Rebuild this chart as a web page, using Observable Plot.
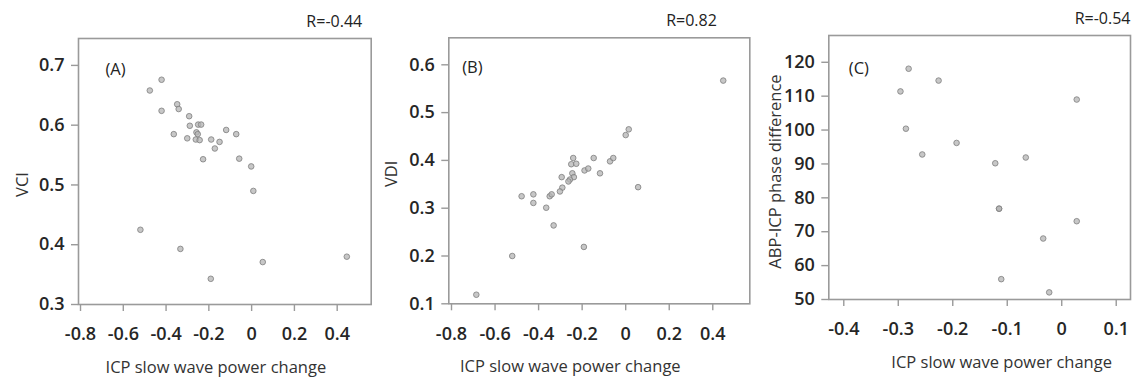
<!DOCTYPE html>
<html>
<head>
<meta charset="utf-8">
<script src="https://cdn.jsdelivr.net/npm/d3@7"></script>
<script src="https://cdn.jsdelivr.net/npm/@observablehq/plot@0.6"></script>
<style>
  html, body { margin: 0; padding: 0; background: #fff; }
  #wrap { position: relative; width: 1144px; height: 384px; overflow: hidden; }
  #wrap > svg { position: absolute; top: 0; }
</style>
</head>
<body>
<div id="wrap"></div>
<script>
// ---------- Data ----------
const xLabel = "ICP slow wave power change";

// Panel A: VCI
const aX = [-0.421,-0.476,-0.348,-0.341,-0.421,-0.292,-0.289,-0.250,-0.236,-0.364,-0.301,-0.258,-0.252,-0.261,-0.243,-0.189,-0.150,-0.119,-0.072,-0.172,-0.227,-0.058,-0.002,0.008,-0.520,-0.333,-0.191,0.052,0.445];
const aY = [0.676,0.658,0.635,0.627,0.624,0.615,0.599,0.601,0.601,0.585,0.578,0.588,0.585,0.576,0.575,0.576,0.572,0.592,0.585,0.561,0.543,0.544,0.531,0.490,0.425,0.393,0.343,0.371,0.380];
const aXTicks = [-0.8,-0.6,-0.4,-0.2,0,0.2,0.4];
const aYTicks = [0.3,0.4,0.5,0.6,0.7];

// Panel B: VDI
const bX = [0.448,0.014,0.000,-0.241,-0.147,-0.072,-0.057,-0.250,-0.227,-0.189,-0.172,-0.118,-0.294,-0.245,-0.238,-0.256,-0.263,-0.291,-0.302,0.057,-0.478,-0.424,-0.424,-0.349,-0.340,-0.365,-0.331,-0.192,-0.521,-0.686];
const bY = [0.567,0.465,0.453,0.405,0.405,0.398,0.405,0.392,0.393,0.379,0.383,0.373,0.365,0.373,0.365,0.360,0.356,0.343,0.335,0.344,0.325,0.329,0.311,0.325,0.329,0.301,0.264,0.219,0.200,0.119];
const bXTicks = [-0.8,-0.6,-0.4,-0.2,0,0.2,0.4];
const bYTicks = [0.1,0.2,0.3,0.4,0.5,0.6];

// Panel C: ABP-ICP phase difference
const cX = [-0.281,-0.226,-0.296,0.0275,-0.286,-0.193,-0.256,-0.122,-0.066,-0.115,-0.115,0.0275,-0.034,-0.111,-0.023];
const cY = [118.1,114.6,111.4,109.0,100.4,96.2,92.8,90.2,91.9,76.8,76.8,73.1,68.0,56.0,52.1];
const cXTicks = [-0.4,-0.3,-0.2,-0.1,0,0.1];
const cYTicks = [50,60,70,80,90,100,110,120];

const panelTags = ["(A)", "(B)", "(C)"];
const rTexts = ["R=-0.44", "R=0.82", "R=-0.54"];
const yLabels = ["VCI", "VDI", "ABP-ICP phase difference"];

// ---------- Drawing ----------
const FONT = "'Open Sans', 'DejaVu Sans', sans-serif";
const fmt = d => (d === 0 ? "0" : String(d));

function panel(cfg) {
  const data = cfg.xs.map((x, i) => ({x, y: cfg.ys[i]}));
  const svg = Plot.plot({
    width: cfg.width,
    height: 384,
    marginLeft: cfg.mL, marginRight: cfg.mR, marginTop: cfg.mT, marginBottom: cfg.mB,
    style: {fontFamily: FONT, fontSize: "16px", color: "#2a2a2a", background: "transparent", overflow: "visible"},
    x: {domain: cfg.xDom},
    y: {domain: cfg.yDom},
    marks: [
      Plot.frame({stroke: "#9a9a9a", strokeWidth: 1.6}),
      Plot.axisX({ticks: cfg.xTicks, tickFormat: fmt, tickSize: 7, tickPadding: 16,
        stroke: "#9a9a9a", strokeWidth: 1.4, fill: "#262626", fontWeight: 600, fontSize: 18, label: null}),
      Plot.axisY({ticks: cfg.yTicks, tickFormat: fmt, tickSize: 7, tickPadding: 7,
        stroke: "#9a9a9a", strokeWidth: 1.4, fill: "#262626", fontWeight: 600, fontSize: 18, label: null}),
      Plot.dot(data, {x: "x", y: "y", r: 2.8, fill: "#b4b4b4", fillOpacity: 0.75,
        stroke: "#7e7e7e", strokeOpacity: 0.8, strokeWidth: 1}),
      Plot.text([cfg.tag], {frameAnchor: "top-left", dx: cfg.tagDx, dy: cfg.tagDy,
        textAnchor: "start", lineAnchor: "middle", fontSize: 16.5, fill: "#222"}),
      Plot.text([cfg.r], {frameAnchor: "top-right", dx: cfg.rDx, dy: -17,
        textAnchor: "end", lineAnchor: "middle", fontSize: 16, fill: "#222"}),
      Plot.text([xLabel], {frameAnchor: "bottom", dx: cfg.xlDx, dy: 63,
        textAnchor: "middle", lineAnchor: "middle", fontSize: 16.5, fill: "#333"}),
      Plot.text([cfg.yLabel], {frameAnchor: "left", dx: cfg.ylDx, dy: cfg.ylDy, rotate: -90,
        textAnchor: "middle", lineAnchor: "middle", fontSize: 16.5, fill: "#333"})
    ]
  });
  svg.style.left = cfg.left + "px";
  document.getElementById("wrap").appendChild(svg);
}

panel({left: 0, width: 380, mL: 78, mR: 9.3, mT: 38, mB: 80,
  xDom: [-0.8094, 0.559], yDom: [0.3, 0.745],
  xTicks: aXTicks, yTicks: aYTicks, xs: aX, ys: aY,
  tag: panelTags[0], tagDx: 27, tagDy: 31, r: rTexts[0], rDx: -9,
  xlDx: -9, yLabel: yLabels[0], ylDx: -56, ylDy: 13});

panel({left: 380, width: 380, mL: 68.3, mR: 10.7, mT: 37.3, mB: 80.7,
  xDom: [-0.8124, 0.570], yDom: [0.1, 0.6565],
  xTicks: bXTicks, yTicks: bYTicks, xs: bX, ys: bY,
  tag: panelTags[1], tagDx: 13.4, tagDy: 30, r: rTexts[1], rDx: -33,
  xlDx: -29, yLabel: yLabels[1], ylDx: -56.6, ylDy: 3});

panel({left: 760, width: 384, mL: 68.3, mR: 14, mT: 35, mB: 85,
  xDom: [-0.4275, 0.1262], yDom: [50, 127.9],
  xTicks: cXTicks, yTicks: cYTicks, xs: cX, ys: cY,
  tag: panelTags[2], tagDx: 20, tagDy: 33, r: rTexts[2], rDx: 0,
  xlDx: 22, yLabel: yLabels[2], ylDx: -53.3, ylDy: 4});
</script>
</body>
</html>
